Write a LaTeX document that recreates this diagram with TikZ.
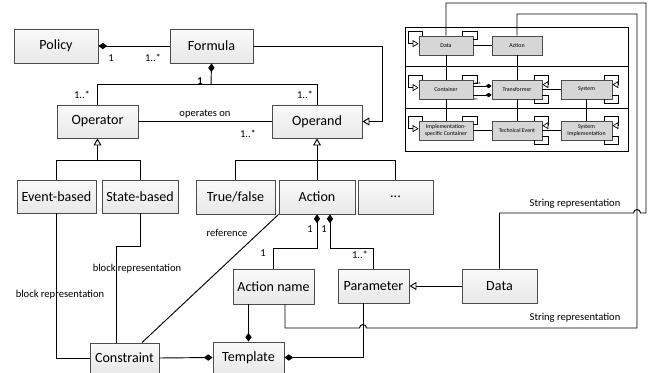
\documentclass[tikz,border=0pt]{standalone}
\usepackage{fontspec}
\setmainfont{Carlito}
\usetikzlibrary{arrows.meta,calc,shadows}
\tikzset{
  dia/.tip={Diamond[length=0.26cm,width=0.19cm]},
  gen/.tip={Triangle[open,length=0.21cm,width=0.24cm]},
  sdia/.tip={Diamond[length=0.18cm,width=0.135cm]},
  sgen/.tip={Triangle[open,length=0.18cm,width=0.21cm]},
  sz/.style 2 args={minimum width={#1*0.03cm},minimum height={#2*0.03cm}},
  cls/.style={draw=black!70,top color=black!2,bottom color=black!9,inner sep=0pt,font=\fontsize{12}{14}\selectfont,
    drop shadow={shadow xshift=0.8pt,shadow yshift=-0.8pt,opacity=0.25}},
  icls/.style={draw=black!70,fill=black!16,inner sep=0pt,line width=0.6pt,sz={54}{19},
    align=center,font=\fontsize{5}{5.5}\selectfont},
  lbl/.style={font=\fontsize{9}{10}\selectfont,inner sep=0pt},
  tiny/.style={font=\fontsize{3.5}{4}\selectfont,inner sep=0pt}
}
\begin{document}
\begin{tikzpicture}[x=0.03cm,y=-0.03cm,line width=0.8pt]
\useasboundingbox (0,0) rectangle (655,373);

\node[cls,sz={84}{34}] (policy) at (56,46) {Policy};
\node[cls,sz={83}{34}] (formula) at (211.5,46) {Formula};
\node[cls,sz={81}{33}] (operator) at (97.5,121.5) {Operator};
\node[cls,sz={90}{33}] (operand) at (317,121.5) {Operand};
\node[cls,sz={79}{33}] (eventb) at (56.5,196.5) {Event-based};
\node[cls,sz={76}{33}] (stateb) at (140,196.5) {State-based};
\node[cls,sz={79}{34}] (truefalse) at (235.5,197) {True/false};
\node[cls,sz={76}{34}] (action) at (317,197) {Action};
\node[cls,sz={75}{34}] (more) at (395.5,197) {...};
\node[cls,sz={81}{35}] (actname) at (273.5,286.5) {Action name};
\node[cls,sz={71}{34}] (param) at (373.5,286) {Parameter};
\node[cls,sz={75}{34}] (data) at (499.5,286) {Data};
\node[cls,sz={69}{30}] (constraint) at (124.5,358) {Constraint};
\node[cls,sz={71}{31}] (template) at (248.5,357.5) {Template};

\draw[dia-] (policy.east) -- (formula.west);
\node[lbl] (mpol) at (111,58) {1};
\node[lbl] (mform) at (153,58) {1..*};
\draw[-gen] (formula.east) -| (382,121.5) -- (operand.east);

\draw[dia-] (formula.south) -- (211,85);
\draw (operator.north) -- ++(0,-20) -| (operand.north);
\node[lbl] (mone) at (200,81) {\textbf{1}};
\node[lbl] (mopr) at (82,95) {1..*};
\node[lbl] (mopd) at (305,95) {1..*};
\draw (operator.east) -- (operand.west);
\node[lbl] (lops) at (205,114) {operates on};
\node[lbl] (mops) at (248,134) {1..*};

\draw[-gen] ($(operator.south)+(0,23)$) -- (operator.south);
\draw (eventb.north) -- ++(0,-19) -| (stateb.north);
\draw[-gen] ($(operand.south)+(0,23)$) -- (operand.south);
\draw (truefalse.north) -- ++(0,-19) -| (more.north);
\draw (action.north) -- ++(0,-19);

\draw[dia-] (action.south) -- ++(0,34) -| (actname.north);
\draw[dia-] ($(action.south)+(13,0)$) -- ++(0,34) -| (param.north);
\node[lbl] (ma1) at (310,229) {1};
\node[lbl] (ma2) at (324,229) {1};
\node[lbl] (man) at (263,253) {1};
\node[lbl] (mpar) at (360,255) {1..*};
\draw[-gen] (data.west) -- (param.east);

\draw[dia-] (template.north) -- (template.north |- actname.south);
\draw[dia-] (template.east) -| ($(param.south)+(-10.5,0)$);
\draw[-dia] (constraint.east) -- (template.west);
\draw (eventb.south) |- (constraint.west);
\draw (stateb.south) -- ++(0,33) -| ($(constraint.north)+(-8.5,0)$);
\draw (action.south west) -- ($(constraint.north)+(17.5,0)$);
\node[lbl] (lblk1) at (60,295) {block representation};
\node[lbl] (lblk2) at (137,269) {block representation};
\node[lbl] (lref) at (227,233) {reference};

\draw[line width=0.6pt] (405,27) rectangle (628,151);
\draw[line width=0.6pt] (405,66) -- (628,66) (405,108) -- (628,108);
\node[icls] (dData) at (446,45.5) {Data};
\node[icls,sz={50}{19}] (dAction) at (517,45.5) {Action};
\node[icls] (dContainer) at (446,89.5) {Container};
\node[icls,sz={50}{19}] (dTransformer) at (517,89.5) {Transformer};
\node[icls,sz={51}{19}] (dSystem) at (586.5,89.5) {System};
\node[icls] (dImpl) at (446,130.5) {Implementation-\\specific Container};
\node[icls,sz={50}{19}] (dTechEvent) at (517,130.5) {Technical Event};
\node[icls,sz={51}{19}] (dSysImpl) at (586.5,130.5) {System\\Implementation};

\begin{scope}[line width=0.6pt]
\draw (dData) -- (dAction);
\draw (dData) -- (dContainer);
\draw (dContainer) -- (dImpl);
\draw (dAction) -- (dTransformer);
\draw (dTransformer) -- (dTechEvent);
\draw (dTransformer) -- (dSystem);
\draw (dSystem) -- (dSysImpl);
\draw (dImpl) -- (dTechEvent);
\draw (dTechEvent) -- (dSysImpl);
\draw[-sdia] ($(dContainer.east)+(0,-3.5)$) -- ($(dTransformer.west)+(0,-3.5)$);
\draw[-sdia] ($(dContainer.east)+(0,5.5)$) -- ($(dTransformer.west)+(0,5.5)$);
\node[tiny] (lout) at (478,83) {out};
\node[tiny] (lin) at (476,99) {in};
\foreach \n in {dData,dContainer,dImpl} {
  \draw[-sgen] ($(\n.north west)+(4,0)$) -- ++(0,-4) -- ++(-14,0) -- ++(0,12) -- ++(10,0);
  \draw ($(\n.north east)+(-11,0)$) -- ++(0,-4) -- ++(15,0) -- ++(0,8) -- ++(-4,0);
}
\foreach \n in {dTransformer,dSystem,dTechEvent,dSysImpl} {
  \draw[-sgen] ($(\n.north east)+(-8,0)$) -- ++(0,-4) -- ++(14,0) -- ++(0,9) -- ++(-6,0);
  \draw ($(\n.south east)+(0,-4)$) -- ++(6,0) -- ++(0,8) -- ++(-14,0) -- ++(0,-4);
}
\end{scope}

\draw (data.north) |- (633.5,213) arc[start angle=180,end angle=360,radius=3.5] -- (646,213) -- (646,3) -| (dData.north);
\draw ($(actname.south)+(11.5,0)$) |- (359.5,328) arc[start angle=180,end angle=360,radius=3.5] -- (637,328) |- (517,14) -- (dAction.north);
\node[lbl] (lstr1) at (575,204) {String representation};
\node[lbl] (lstr2) at (575,318) {String representation};
\end{tikzpicture}
\end{document}
